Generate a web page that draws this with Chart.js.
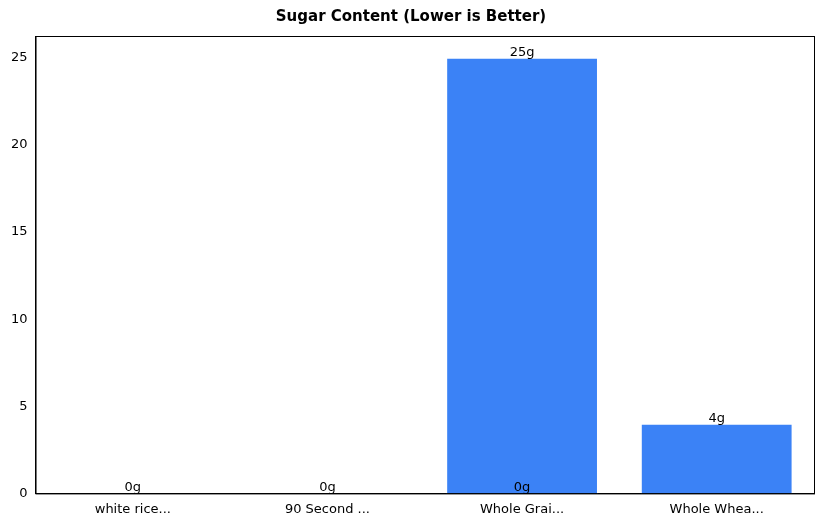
<!DOCTYPE html>
<html>
<head>
<meta charset="utf-8">
<script src="https://cdn.jsdelivr.net/npm/chart.js@4/dist/chart.umd.min.js"></script>
<style>
  body { margin: 0; background: #fff; }
  #wrap { width: 822px; height: 528px; }
</style>
</head>
<body>
<div id="wrap"><canvas id="chart"></canvas></div>
<script>
const categories = ['white rice...', '90 Second ...', 'Whole Grai...', 'Whole Whea...'];
const sugarGrams = [0, 0, 25, 4];
const barLabels = ['0g', '0g', '25g', '4g'];
// matplotlib left an extra label at the base of the third bar
const baseLabels = [null, null, '0g', null];
const yTicks = [0, 5, 10, 15, 20, 25];

const labelPlugin = {
  id: 'barText',
  afterDatasetsDraw(chart) {
    const { ctx } = chart;
    const meta = chart.getDatasetMeta(0);
    const y = chart.scales.y;
    ctx.save();
    ctx.fillStyle = '#000';
    ctx.font = '13px "DejaVu Sans"';
    ctx.textAlign = 'center';
    ctx.textBaseline = 'bottom';
    meta.data.forEach((bar, i) => {
      ctx.fillText(barLabels[i], bar.x, bar.y + 1);
      if (baseLabels[i]) ctx.fillText(baseLabels[i], bar.x, y.getPixelForValue(0) + 1);
    });
    ctx.restore();
  }
};

const frame = {
  id: 'frame',
  afterDraw(chart) {
    const { ctx, chartArea: a } = chart;
    ctx.save();
    ctx.strokeStyle = '#000';
    ctx.lineWidth = 1;
    ctx.strokeRect(a.left + 0.5, a.top + 0.5, a.right - a.left, a.bottom - a.top);
    ctx.restore();
  }
};

new Chart(document.getElementById('chart'), {
  type: 'bar',
  data: {
    labels: categories,
    datasets: [{
      data: sugarGrams,
      backgroundColor: '#3b82f6',
      borderColor: '#ffffff',
      borderWidth: 1,
      barPercentage: 0.78,
      categoryPercentage: 1
    }]
  },
  options: {
    responsive: true,
    maintainAspectRatio: false,
    animation: false,
    layout: { padding: { left: 8, right: 8, top: 4, bottom: 8 } },
    plugins: {
      legend: { display: false },
      tooltip: { enabled: false },
      title: {
        display: true,
        text: 'Sugar Content (Lower is Better)',
        color: '#000',
        font: { family: 'DejaVu Sans', size: 15, weight: 'bold' },
        padding: { top: 4, bottom: 10 }
      }
    },
    scales: {
      x: {
        grid: { display: false, drawTicks: true, tickLength: 5, tickColor: '#000' },
        border: { color: '#000' },
        ticks: { color: '#000', font: { family: 'DejaVu Sans', size: 13 }, padding: 3 }
      },
      y: {
        min: 0,
        max: 26.25,
        afterBuildTicks(axis) { axis.ticks = yTicks.map(v => ({ value: v })); },
        grid: { display: false, drawTicks: true, tickLength: 5, tickColor: '#000' },
        border: { color: '#000' },
        ticks: { color: '#000', font: { family: 'DejaVu Sans', size: 13 }, padding: 3 }
      }
    }
  },
  plugins: [labelPlugin, frame]
});
</script>
</body>
</html>
